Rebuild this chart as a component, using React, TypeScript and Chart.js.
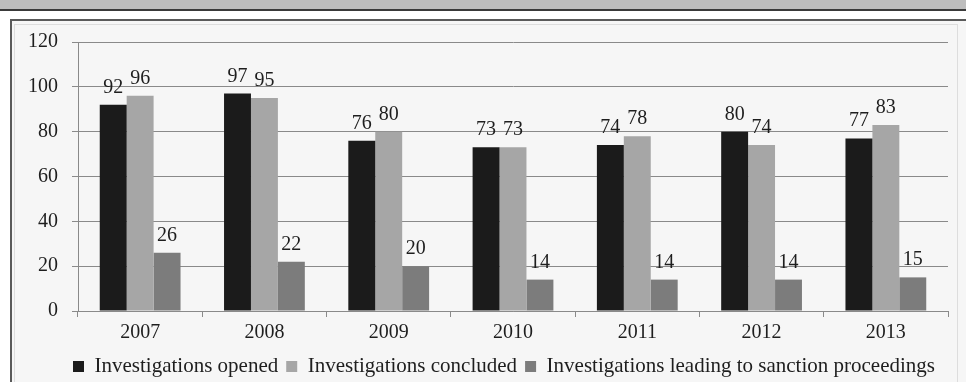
import React, { useEffect, useRef } from "react";
import { Chart, registerables } from "chart.js";

Chart.register(...registerables);

const years = ["2007", "2008", "2009", "2010", "2011", "2012", "2013"];
const opened = [92, 97, 76, 73, 74, 80, 77];
const concluded = [96, 95, 80, 73, 78, 74, 83];
const sanction = [26, 22, 20, 14, 14, 14, 15];
const seriesNames = [
  "Investigations opened",
  "Investigations concluded",
  "Investigations leading to sanction proceedings",
];
const yMin = 0;
const yMax = 120;
const yStep = 20;

const FONT = "'Liberation Serif', 'Times New Roman', serif";
const GRID = "#8a8a8a";
const TEXT = "#1e1e1e";

export default function App() {
  const ref = useRef<HTMLCanvasElement>(null);

  useEffect(() => {
    const labelPlugin = {
      id: "valueLabels",
      afterDatasetsDraw(chart: any) {
        const ctx = chart.ctx;
        ctx.save();
        ctx.font = `20px ${FONT}`;
        ctx.fillStyle = TEXT;
        ctx.textAlign = "center";
        ctx.textBaseline = "alphabetic";
        chart.data.datasets.forEach((ds: any, i: number) => {
          const meta = chart.getDatasetMeta(i);
          meta.data.forEach((bar: any, j: number) => {
            ctx.fillText(String(ds.data[j]), bar.x, bar.y - 12);
          });
        });
        ctx.restore();
      },
    };

    const legendShift = {
      id: "legendShift",
      afterLayout(chart: any) {
        const lg = chart.legend;
        if (lg) {
          lg.left = 60;
          lg.top += 5;
          lg.bottom += 5;
        }
      },
    };

    const chart = new Chart(ref.current as HTMLCanvasElement, {
      type: "bar",
      data: {
        labels: years,
        datasets: [
          { label: seriesNames[0], data: opened, backgroundColor: "#1b1b1b" },
          { label: seriesNames[1], data: concluded, backgroundColor: "#a6a6a6" },
          { label: seriesNames[2], data: sanction, backgroundColor: "#7c7c7c" },
        ],
      },
      options: {
        responsive: false,
        animation: false,
        layout: { padding: { left: 0, right: 18, top: 42, bottom: 0 } },
        datasets: {
          bar: { barPercentage: 1, categoryPercentage: 0.65 },
        },
        plugins: {
          tooltip: { enabled: false },
          legend: {
            position: "bottom",
            labels: {
              boxWidth: 11,
              boxHeight: 11,
              padding: 8,
              color: TEXT,
              font: { family: FONT, size: 21 },
            },
          },
        },
        scales: {
          x: {
            offset: true,
            grid: {
              offset: true,
              drawOnChartArea: false,
              drawTicks: true,
              tickLength: 6,
              color: GRID,
            },
            border: { color: GRID, width: 1 },
            ticks: { color: TEXT, font: { family: FONT, size: 20 }, padding: 4 },
            afterFit: (s: any) => {
              s.height = 32;
            },
          },
          y: {
            min: yMin,
            max: yMax,
            ticks: {
              stepSize: yStep,
              color: TEXT,
              font: { family: FONT, size: 20 },
              padding: 14,
            },
            grid: { color: GRID, tickLength: 6, tickColor: GRID },
            border: { color: GRID, width: 1 },
            afterFit: (s: any) => {
              s.width = 78;
            },
          },
        },
      },
      plugins: [labelPlugin, legendShift],
    });
    return () => chart.destroy();
  }, []);

  return (
    <div style={{ position: "absolute", left: 0, top: 0, width: 966, height: 382, background: "#ffffff", overflow: "hidden" }}>
      <div style={{ position: "absolute", left: 0, top: 0, width: 966, height: 9, background: "#bdbdbd", borderBottom: "2px solid #3a3a3a" }} />
      <div style={{ position: "absolute", left: 10, top: 19, width: 956, height: 363, borderLeft: "2px solid #5a5a5a", borderTop: "2px solid #5a5a5a", background: "#f6f6f6", boxSizing: "border-box" }} />
      <div style={{ position: "absolute", left: 14, top: 24, width: 944, height: 360, border: "1px solid #dddddd", boxSizing: "border-box" }} />
      <canvas ref={ref} width={966} height={382} style={{ position: "absolute", left: 0, top: 0 }} />
    </div>
  );
}
